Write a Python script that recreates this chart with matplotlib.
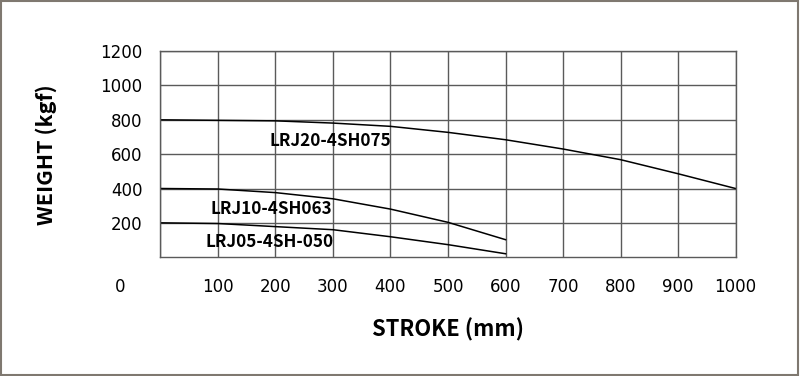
import matplotlib
matplotlib.use("Agg")
import matplotlib.pyplot as plt
import matplotlib.transforms as mtransforms
from matplotlib.patches import Rectangle

# Data
x_lrj20 = [0, 100, 200, 300, 400, 500, 600, 700, 800, 900, 1000]
y_lrj20 = [800, 797, 794, 781, 762, 727, 684, 630, 568, 486, 400]
x_lrj10 = [0, 100, 200, 300, 400, 500, 600]
y_lrj10 = [400, 397, 376, 340, 280, 203, 102]
x_lrj05 = [0, 100, 200, 300, 400, 500, 600]
y_lrj05 = [200, 196, 178, 160, 119, 73, 20]
series_names = ["LRJ20-4SH075", "LRJ10-4SH063", "LRJ05-4SH-050"]
label_pos = [(295, 678), (193, 282), (190, 90)]
x_ticks = [0, 100, 200, 300, 400, 500, 600, 700, 800, 900, 1000]
y_ticks = [200, 400, 600, 800, 1000, 1200]

fig = plt.figure(figsize=(8, 3.76), dpi=100)
ax = fig.add_axes([0.2006, 0.316, 0.7188, 0.548])
grid_c = "#5a5a5a"

ax.set_xlim(0, 1000)
ax.set_ylim(0, 1200)
ax.set_xticks(x_ticks)
ax.set_xticklabels([str(v) for v in x_ticks])
ax.set_yticks(y_ticks)
ax.set_yticklabels([str(v) for v in y_ticks])
ax.tick_params(length=0, labelsize=12)
ax.tick_params(axis="x", pad=15)
ax.tick_params(axis="y", pad=13)
for lab in ax.get_xticklabels() + ax.get_yticklabels():
    lab.set_family("DejaVu Sans")
ax.grid(True, color=grid_c, lw=1.0)
ax.set_axisbelow(True)
for s in ax.spines.values():
    s.set_color(grid_c)
    s.set_linewidth(1.0)

# shift the "0" label to the left
off = mtransforms.ScaledTranslation(-40 / 100, 0, fig.dpi_scale_trans)
fig.canvas.draw()
first = ax.get_xticklabels()[0]
first.set_transform(first.get_transform() + off)

ax.plot(x_lrj20, y_lrj20, color="black", lw=1.1)
ax.plot(x_lrj10, y_lrj10, color="black", lw=1.1)
ax.plot(x_lrj05, y_lrj05, color="black", lw=1.1)

for name, (lx, ly) in zip(series_names, label_pos):
    ax.text(lx, ly, name, ha="center", va="center", fontsize=12.3,
            fontweight="bold", family="Noto Sans CJK KR")

ax.set_xlabel("STROKE (mm)", fontsize=15.8, fontweight="bold",
              family="Noto Sans CJK KR", labelpad=16)
ax.set_ylabel("WEIGHT (kgf)", fontsize=15.5, fontweight="bold",
              family="Noto Sans CJK KR", labelpad=31)

# outer border
fig.patches.append(Rectangle((0.001, 0.002), 0.997, 0.996, transform=fig.transFigure,
                             fill=False, edgecolor="#7f7870", lw=1.5))

fig.savefig("out.png", dpi=100)
